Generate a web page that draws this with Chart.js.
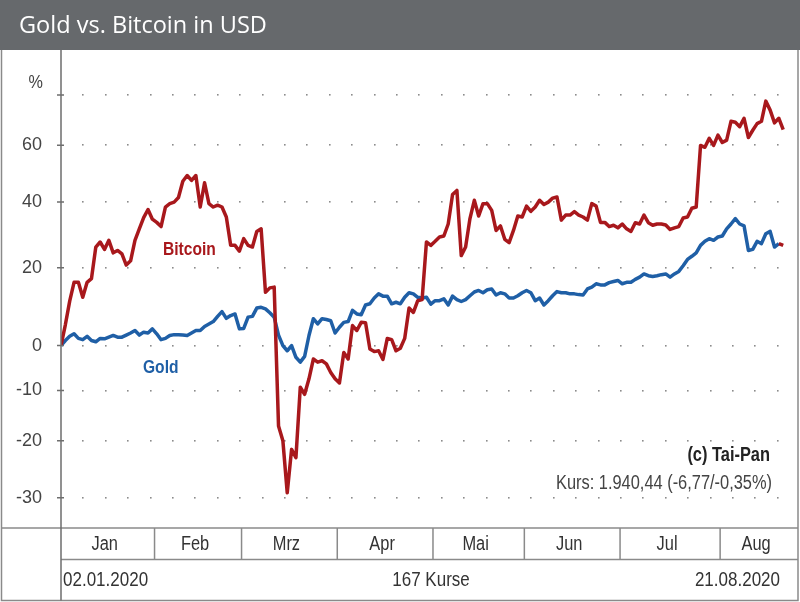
<!DOCTYPE html>
<html>
<head>
<meta charset="utf-8">
<script src="https://cdn.jsdelivr.net/npm/chart.js@4.4.1/dist/chart.umd.min.js"></script>
<style>
  html, body { margin: 0; padding: 0; background: #fff; overflow: hidden; }
  canvas { display: block; }
</style>
</head>
<body>
<canvas id="chart" width="800" height="602"></canvas>
<script>
// percent change since 02.01.2020, one value per trading day (167 Kurse)
const bitcoin = [
  0, 5, 11, 16, 16, 12, 16, 17, 26, 27.5,
  25.3, 28, 24.3, 25, 24, 20.8, 22, 28, 31.5, 35,
  37.6, 34.5, 33.5, 32.2, 38.4, 39.5, 40, 41.5, 47, 49,
  47.3, 49, 38.4, 46.5, 39.5, 38.4, 39, 38.4, 35.2, 26.5,
  26.5, 24.8, 28.5, 26.5, 26, 30.7, 31.5, 13.3, 14.5, 14.7,
  -17.2, -20, -29.2, -21.6, -23.1, -9.3, -10.8, -7.5, -3.1, -3.8,
  -3.5, -4.2, -6.1, -7.5, -8.4, -1.6, -3.1, 4.8, 3.6, 5.6,
  5.5, -0.8, -1.4, -1.2, -3.2, 1.7, 1.4, -1.2, -0.6, 1.7,
  9.2, 8.1, 11.1, 11.4, 27.5, 26.5, 27.7, 29, 29.3, 33,
  42.5, 43.9, 23.5, 26, 34.7, 40.6, 35.5, 39.5, 39.5, 37.3,
  31, 32.4, 28.3, 27.3, 31, 35.5, 35.2, 38.7, 37, 38.4,
  40.6, 39.2, 40, 41.3, 41.7, 34.2, 35.8, 35.8, 36.9, 35.8,
  35.2, 34.2, 39.5, 38.7, 33.5, 33.5, 32.2, 32.6, 31.8, 33,
  31.5, 30.7, 33.4, 33, 35.8, 33.4, 32.6, 33, 33, 32.7,
  31.3, 31.8, 32.2, 34.9, 35.2, 38, 38.4, 59.9, 59.2, 62.6,
  59.9, 63.8, 61, 61.9, 69.2, 68.8, 67.1, 70.4, 62.9, 65.7,
  68.3, 69.2, 77.4, 73.7, 68.6, 70.4, 65.9
];
const gold = [
  0, 1.2, 2.2, 2.8, 1.7, 1.4, 2.2, 1.2, 0.9, 1.7,
  1.6, 2.0, 2.4, 2.0, 2.0, 2.5, 3.0, 3.6, 2.5, 3.2,
  3.0, 4.0, 2.8, 1.4, 1.7, 2.4, 2.6, 2.6, 2.5, 2.4,
  3.0, 3.6, 3.6, 4.6, 5.2, 5.8, 7.1, 8.3, 6.6, 7.3,
  7.7, 4.0, 4.1, 6.9, 7.1, 9.2, 9.4, 9.0, 8.0, 6.9,
  2.5, 0, -1.2, 0, -2.7, -3.8, -2.5, 2.4, 6.5, 5.2,
  6.5, 6.3, 6.0, 3.0, 4.4, 5.6, 5.8, 8.6, 7.7, 7.5,
  10.0, 10.3, 11.8, 12.9, 12.3, 12.3, 10.3, 10.7, 10.3, 12.0,
  13.2, 12.9, 12.0, 11.8, 12.0, 10.2, 11.1, 11.1, 11.6, 10.0,
  12.3, 11.4, 10.9, 11.4, 12.4, 13.4, 13.8, 13.2, 14.0, 14.2,
  12.6, 13.2, 12.9, 11.8, 11.8, 12.4, 13.2, 13.8, 13.2, 11.1,
  11.8, 10.0, 11.1, 12.4, 13.5, 13.2, 13.2, 12.9, 12.9, 12.7,
  12.6, 14.2, 14.7, 15.6, 15.3, 15.3, 15.9, 16.2, 16.5, 15.6,
  16.0, 16.0, 16.8, 17.4, 18.3, 17.8, 17.6, 17.8, 18.1, 18.3,
  17.4, 18.3, 19.0, 20.6, 22.4, 23.3, 24.3, 26.5, 27.7, 28.5,
  28.0, 29.0, 29.3, 31.5, 33.0, 34.7, 33.0, 32.4, 25.0, 25.3,
  27.7, 27.0, 30.0, 30.7, 26.0, 27.0, 26.5
];

const months = ['Jan', 'Feb', 'Mrz', 'Apr', 'Mai', 'Jun', 'Jul', 'Aug'];
const monthStarts = [0, 22, 42, 64, 86, 107, 129, 152];   // index of first Kurs in each month
const yTicks = [-30, -20, -10, 0, 20, 40, 60, 80];
const yTickLabels = ['-30', '-20', '-10', '0', '20', '40', '60', ''];

const RED = '#a8181c';
const BLUE = '#1f5fa6';
const FRAME = '#8a8a8a';
const NARROW = '"Liberation Sans", Arial, sans-serif';

// log scale on (100 + pct), like the original
const toPoints = arr => arr.map((v, i) => ({ x: i, y: 100 + v }));

function drawText(ctx, txt, x, y, font, color, align, sx) {
  ctx.save();
  ctx.translate(x, y);
  ctx.scale(sx || 1, 1);
  ctx.font = font;
  ctx.fillStyle = color;
  ctx.textAlign = align || 'left';
  ctx.textBaseline = 'middle';
  ctx.fillText(txt, 0, 0);
  ctx.restore();
}

const frame = {
  id: 'frame',
  beforeDraw(chart) {
    const ctx = chart.ctx;
    const area = chart.chartArea;
    const y = chart.scales.y;
    ctx.save();
    ctx.fillStyle = '#fff';
    ctx.fillRect(0, 0, chart.width, chart.height);

    // dotted grid at every y tick
    ctx.fillStyle = '#8c8c8c';
    yTicks.forEach(t => {
      const py = Math.round(y.getPixelForValue(100 + t));
      for (let px = area.left + 22.4; px < area.right - 4; px += 22.4) {
        ctx.fillRect(Math.round(px) - 1, py - 1, 1.6, 1.6);
      }
    });
    ctx.restore();
  },
  afterDraw(chart) {
    const ctx = chart.ctx;
    const area = chart.chartArea;
    const x = chart.scales.x;
    const y = chart.scales.y;
    const W = chart.width, H = chart.height;
    ctx.save();

    // title bar
    ctx.fillStyle = '#66696c';
    ctx.fillRect(0, 0, W, 50);
    drawText(ctx, 'Gold vs. Bitcoin in USD', 19, 26, '500 24px "Open Sans", sans-serif', '#fff', 'left', 0.98);

    // frame lines
    ctx.strokeStyle = FRAME;
    ctx.lineWidth = 1.5;
    ctx.beginPath();
    ctx.moveTo(1.5, 50); ctx.lineTo(1.5, H - 1.5); ctx.lineTo(W - 2, H - 1.5); ctx.lineTo(W - 2, 50);
    ctx.moveTo(1.5, area.bottom); ctx.lineTo(W - 2, area.bottom);
    ctx.moveTo(area.left, 559.5); ctx.lineTo(W - 2, 559.5);
    ctx.stroke();

    ctx.strokeStyle = '#6e6e6e';
    ctx.beginPath();
    ctx.moveTo(area.left, 50); ctx.lineTo(area.left, H - 1.5);
    yTicks.forEach(t => {
      const py = y.getPixelForValue(100 + t);
      ctx.moveTo(area.left - 4, py); ctx.lineTo(area.left + 3, py);
    });
    ctx.stroke();

    drawText(ctx, '%', 43, 83, '18px ' + NARROW, '#444', 'right', 0.9);

    // month row
    ctx.strokeStyle = FRAME;
    ctx.beginPath();
    const edges = monthStarts.map(s => x.getPixelForValue(s - 0.5));
    edges[0] = area.left;
    edges.push(area.right);
    edges.slice(1, -1).forEach(px => { ctx.moveTo(px, area.bottom); ctx.lineTo(px, 559.5); });
    ctx.stroke();
    months.forEach((m, i) => {
      drawText(ctx, m, (edges[i] + edges[i + 1]) / 2 - 3, 544, '20px ' + NARROW, '#333', 'center', 0.82);
    });

    // footer row
    drawText(ctx, '02.01.2020', 63, 580, '20px ' + NARROW, '#333', 'left', 0.85);
    drawText(ctx, '167 Kurse', 431, 580, '20px ' + NARROW, '#333', 'center', 0.85);
    drawText(ctx, '21.08.2020', 780, 580, '20px ' + NARROW, '#333', 'right', 0.85);

    // labels inside the plot
    drawText(ctx, 'Bitcoin', 163, 250, 'bold 19px ' + NARROW, RED, 'left', 0.82);
    drawText(ctx, 'Gold', 143, 368, 'bold 19px ' + NARROW, BLUE, 'left', 0.82);
    drawText(ctx, '(c) Tai-Pan', 770, 455, 'bold 20px ' + NARROW, '#222', 'right', 0.82);
    drawText(ctx, 'Kurs: 1.940,44 (-6,77/-0,35%)', 772, 483, '20px ' + NARROW, '#444', 'right', 0.82);
    ctx.restore();
  }
};

new Chart(document.getElementById('chart').getContext('2d'), {
  type: 'line',
  data: {
    datasets: [
      {
        label: 'Bitcoin',
        data: toPoints(bitcoin),
        borderColor: RED,
        borderWidth: 3.5,
        pointRadius: 0,
        tension: 0,
        borderJoinStyle: 'round'
      },
      {
        label: 'Gold',
        data: toPoints(gold),
        borderColor: BLUE,
        borderWidth: 3.5,
        pointRadius: 0,
        tension: 0,
        borderJoinStyle: 'round',
        // last day was a loss -> red segment
        segment: {
          borderColor: c => c.p1DataIndex === gold.length - 1 ? RED : undefined
        }
      }
    ]
  },
  options: {
    responsive: false,
    animation: false,
    layout: { padding: { top: 50, bottom: 74, left: 0, right: 2 } },
    plugins: {
      legend: { display: false },
      tooltip: { enabled: false }
    },
    scales: {
      x: {
        type: 'linear',
        display: false,
        min: 0,
        max: 169.4
      },
      y: {
        type: 'logarithmic',
        min: 65.2,
        max: 200,
        afterBuildTicks: s => { s.ticks = yTicks.map(t => ({ value: 100 + t })); },
        afterFit: s => { s.width = 61; },
        ticks: {
          callback: (v, i) => yTickLabels[i],
          font: { family: 'Liberation Sans', size: 18 },
          color: '#444',
          padding: 19
        },
        grid: { display: false, drawTicks: false },
        border: { display: false }
      }
    }
  },
  plugins: [frame]
});
</script>
</body>
</html>
